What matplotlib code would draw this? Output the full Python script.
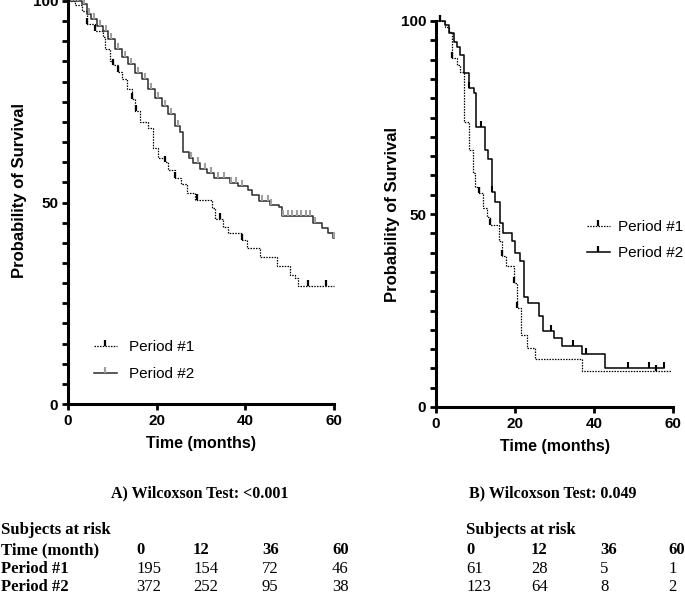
import numpy as np
import matplotlib
matplotlib.use('Agg')
import matplotlib.pyplot as plt
from matplotlib.path import Path
from matplotlib.lines import Line2D
from matplotlib.ticker import MultipleLocator

# ---------------- data ----------------
# Panel A
a1_time = [0, 1.5, 3.1, 4.2, 6.1, 8.0, 8.3, 9.5, 10.2, 11.3, 12.1, 13.2, 14.4, 15.1, 16.2, 18.1,
           19.2, 20.3, 21.8, 22.6, 24.1, 25.5, 26.8, 28.6, 32.4, 33.2, 35.0, 36.2, 39.2, 40.3,
           43.3, 47.1, 50.1, 51.2, 51.9, 60]
a1_surv = [100, 99.0, 97.6, 94.3, 92.6, 91.0, 88.0, 85.1, 84.0, 82.3, 80.6, 78.1, 75.6, 72.7, 69.9, 68.6,
           63.6, 61.0, 60.0, 58.0, 56.0, 54.5, 52.4, 50.7, 48.7, 45.8, 44.0, 42.4, 40.8, 38.7,
           36.6, 34.2, 32.1, 31.3, 29.2, 29.2]
a1_cens = [4.2, 6.1, 10.2, 11.3, 14.4, 15.3, 21.8, 24.1, 29.0, 34.3, 39.2, 54.2, 58.3]

a2_time = [0, 3.1, 4.2, 5.3, 6.5, 8.0, 9.1, 10.6, 12.1, 13.6, 15.1, 16.6, 18.1, 19.6, 21.1, 22.6,
           24.1, 25.3, 26.0, 27.2, 28.3, 29.8, 31.4, 33.0, 36.5, 38.4, 40.6, 41.5, 43.0, 45.6,
           47.5, 48.2, 55.3, 57.2, 58.7, 59.8, 60]
a2_surv = [100, 99.3, 96.8, 95.5, 93.9, 92.6, 90.5, 88.0, 86.0, 84.3, 82.2, 80.6, 78.1, 76.0, 74.0, 71.9,
           69.0, 67.5, 62.5, 61.0, 59.8, 58.4, 57.2, 56.2, 54.8, 54.0, 53.2, 51.8, 50.4, 49.5,
           48.9, 46.6, 44.9, 43.7, 42.4, 41.2, 41.2]
a2_cens = [0.8, 1.5, 2.3, 3.6, 4.8, 5.9, 7.2, 8.5, 9.8, 11.3, 12.8, 14.3, 15.8, 17.3, 18.8, 20.3,
           21.8, 23.3, 24.7, 27.8, 29.3, 30.8, 32.3, 33.8, 35.3, 36.8, 38.0, 39.2, 43.8, 45.0, 45.8,
           48.6, 49.6, 50.6, 51.6, 52.6, 53.6, 54.6, 55.7, 59.9]

# Panel B
b1_time = [0, 2.4, 3.2, 4.0, 5.3, 6.0, 7.0, 8.3, 9.3, 9.9, 11.0, 11.9, 12.9, 13.7, 15.9, 16.7,
           17.6, 19.7, 20.5, 21.6, 23.0, 25.1, 36.9, 59.5]
b1_surv = [100, 98.5, 97.2, 90.3, 88.6, 86.9, 73.9, 66.6, 60.6, 57.1, 55.4, 51.5, 49.3, 47.2, 42.9, 39.0,
           36.4, 32.1, 25.6, 18.7, 15.4, 12.4, 9.4, 9.4]
b1_cens = [1.0, 4.0, 11.0, 13.7, 16.7, 19.7, 20.6, 55.7]

b2_time = [0, 2.4, 3.2, 4.5, 5.3, 6.1, 7.0, 8.3, 9.5, 10.1, 12.5, 13.2, 14.2, 15.0, 16.1, 16.9,
           19.2, 20.1, 21.2, 22.2, 23.3, 26.0, 27.1, 29.9, 31.8, 36.9, 42.8, 57.7]
b2_surv = [100, 99.0, 96.8, 94.6, 93.3, 91.2, 86.5, 82.6, 81.3, 72.6, 66.6, 64.2, 55.8, 53.2, 47.6, 45.0,
           42.9, 39.9, 37.7, 28.6, 26.9, 23.5, 19.8, 17.8, 15.9, 13.7, 10.1, 10.1]
b2_cens = [1.0, 8.3, 11.3, 14.2, 29.1, 34.8, 37.9, 48.7, 53.8, 57.7]

series_labels = ['Period #1', 'Period #2']
titles = ['A) Wilcoxson Test: <0.001', 'B) Wilcoxson Test: 0.049']

risk_times = ['0', '12', '36', '60']
risk_a = [['195', '154', '72', '46'], ['372', '252', '95', '38']]
risk_b = [['61', '28', '5', '1'], ['123', '64', '8', '2']]

# ---------------- figure ----------------
W, H = 685, 594
fig = plt.figure(figsize=(W / 100, H / 100), dpi=100)

SANS = ['Liberation Sans', 'DejaVu Sans']
SERIF = ['Liberation Serif', 'DejaVu Serif']


def px_axes(x0, x1, ytop, ybot):
    return fig.add_axes([x0 / W, 1 - ybot / H, (x1 - x0) / W, (ybot - ytop) / H])


def ftext(x, y, s, **kw):
    fig.text(x / W, 1 - y / H, s, **kw)


tick_marker = Path([(0, 0), (0, 1)], [Path.MOVETO, Path.LINETO])


def step_val(t, s, x):
    t = np.asarray(t)
    s = np.asarray(s)
    i = np.searchsorted(t, x, side='right') - 1
    return s[np.clip(i, 0, len(s) - 1)]


DOT = (0, (1.2, 1.0))


def style_axes(ax):
    ax.set_xlim(0, 60)
    ax.set_ylim(0, 100)
    for sp in ['top', 'right']:
        ax.spines[sp].set_visible(False)
    for sp in ['left', 'bottom']:
        ax.spines[sp].set_linewidth(2.2)
    ax.set_xticks([0, 20, 40, 60])
    ax.set_yticks([0, 50, 100])
    ax.yaxis.set_minor_locator(MultipleLocator(5))
    ax.tick_params(which='both', direction='out', width=2.0, length=4.5, pad=2.5)
    for lab in ax.get_xticklabels() + ax.get_yticklabels():
        lab.set_fontfamily(SANS)
        lab.set_fontweight('bold')
        lab.set_fontsize(11)
    ax.set_xlabel('Time (months)', fontfamily=SANS, fontweight='bold', fontsize=11.5, labelpad=6)
    ax.set_ylabel('Probability of Survival', fontfamily=SANS, fontweight='bold', fontsize=12)


def draw_panel(ax, t1, s1, c1, t2, s2, c2, col2_line, col2_tick):
    ax.step(t1, s1, where='post', color='black', lw=0.9, ls=DOT, clip_on=False)
    ax.plot(c1, step_val(t1, s1, c1), ls='none', marker=tick_marker, ms=8, mew=1.6,
            color='black', clip_on=False)
    ax.step(t2, s2, where='post', color=col2_line, lw=1.1, clip_on=False)
    ax.plot(c2, step_val(t2, s2, c2), ls='none', marker=tick_marker, ms=8, mew=1.5,
            color=col2_tick, clip_on=False)
    h1 = Line2D([], [], color='black', lw=0.9, ls=DOT, marker=tick_marker, ms=8, mew=1.6)
    h2 = Line2D([], [], color=col2_line, lw=1.1, marker=tick_marker, ms=8, mew=1.6,
                markeredgecolor=col2_tick)
    return [h1, h2]


axA = px_axes(68, 334, 1, 404)
axB = px_axes(436, 673, 21, 407)

hA = draw_panel(axA, a1_time, a1_surv, a1_cens, a2_time, a2_surv, a2_cens, '#2a2a2a', '#a0a0a0')
hB = draw_panel(axB, b1_time, b1_surv, b1_cens, b2_time, b2_surv, b2_cens, 'black', 'black')

style_axes(axA)
style_axes(axB)
axA.yaxis.set_label_coords(-0.155, 0.53)
axB.yaxis.set_label_coords(-0.15, 0.5)

legA = fig.legend(hA, series_labels, loc='upper left', bbox_to_anchor=(94 / W, 1 - 340 / H),
                  frameon=False, prop={'family': SANS, 'size': 11}, handlelength=1.5,
                  handletextpad=0.8, labelspacing=0.85, borderpad=0, borderaxespad=0)
legB = fig.legend(hB, series_labels, loc='upper left', bbox_to_anchor=(587 / W, 1 - 220 / H),
                  frameon=False, prop={'family': SANS, 'size': 11}, handlelength=1.5,
                  handletextpad=0.55, labelspacing=0.8, borderpad=0, borderaxespad=0)

# titles
ftext(200, 493, titles[0], ha='center', va='center', family=SERIF, weight='bold', fontsize=11.5)
ftext(553, 493, titles[1], ha='center', va='center', family=SERIF, weight='bold', fontsize=11.5)

# risk tables
row_y = [530, 550, 569, 587]
colsA = [136, 193, 262, 332]
colsB = [466, 531, 600, 668]
tkw = dict(va='center', ha='left', family=SERIF, fontsize=12)

ftext(1, row_y[0], 'Subjects at risk', weight='bold', **tkw)
ftext(1, row_y[1], 'Time (month)', weight='bold', **tkw)
for i, lab in enumerate(series_labels):
    ftext(1, row_y[2 + i], lab, weight='bold', **tkw)
for j, tm in enumerate(risk_times):
    ftext(colsA[j], row_y[1], tm, weight='bold', **tkw)
    for i in range(2):
        ftext(colsA[j], row_y[2 + i], risk_a[i][j], **tkw)

ftext(colsB[0], row_y[0], 'Subjects at risk', weight='bold', **tkw)
for j, tm in enumerate(risk_times):
    ftext(colsB[j], row_y[1], tm, weight='bold', **tkw)
    for i in range(2):
        ftext(colsB[j], row_y[2 + i], risk_b[i][j], **tkw)

fig.savefig('out.png', dpi=100)
